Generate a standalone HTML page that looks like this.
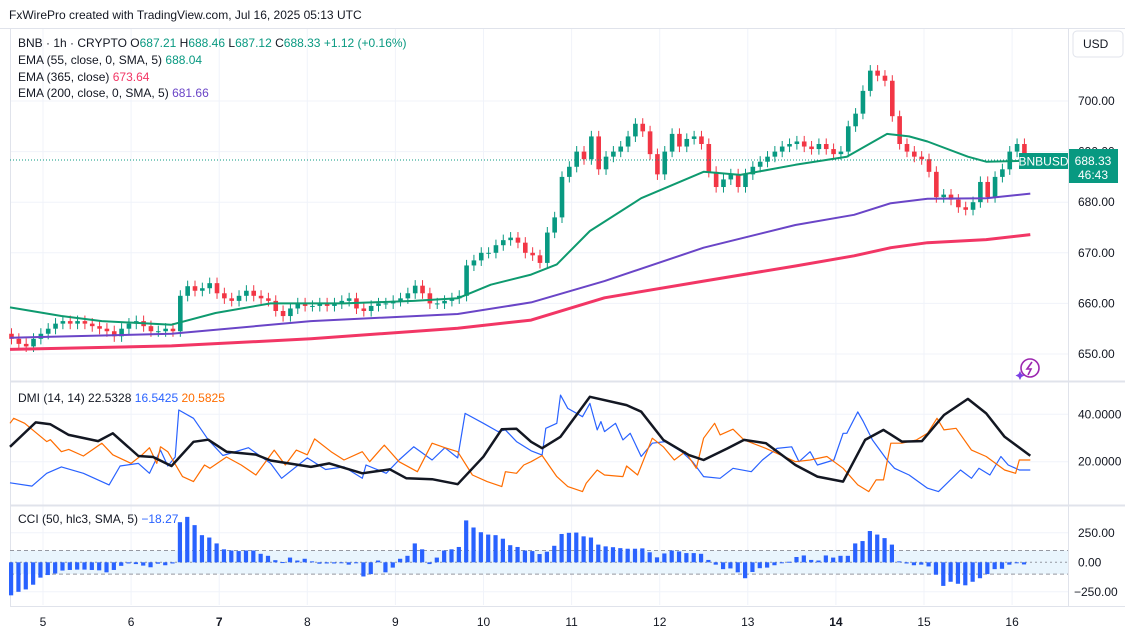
<!DOCTYPE html>
<html><head><meta charset="utf-8">
<style>
html,body{margin:0;padding:0;background:#fff;}
body{width:1125px;height:637px;overflow:hidden;font-family:"Liberation Sans",sans-serif;}
svg text{font-family:"Liberation Sans",sans-serif;}
</style></head>
<body>
<svg id="chart" width="1125" height="637" viewBox="0 0 1125 637" xmlns="http://www.w3.org/2000/svg">
<rect x="0" y="0" width="1125" height="637" fill="#ffffff"/>
<text x="9" y="19" font-size="12" fill="#131722">FxWirePro created with TradingView.com, Jul 16, 2025 05:13 UTC</text>
<g id="grid"></g>
<g id="frame">
<line x1="0" y1="28.5" x2="1125" y2="28.5" stroke="#e0e3eb"/>
<line x1="10.5" y1="28" x2="10.5" y2="606" stroke="#e0e3eb"/>
<line x1="1068.5" y1="28" x2="1068.5" y2="606" stroke="#e0e3eb"/>
<line x1="10" y1="381.5" x2="1125" y2="381.5" stroke="#e0e3eb" stroke-width="2"/>
<line x1="10" y1="505.5" x2="1125" y2="505.5" stroke="#e0e3eb" stroke-width="2"/>
<line x1="10" y1="606.5" x2="1125" y2="606.5" stroke="#e0e3eb"/>
</g>
<g id="cciBand"></g>
<g id="main"></g>
<g id="dmi"></g>
<g id="cci"></g>
<g id="axes"></g>

<g font-size="12">
<text x="18" y="47" fill="#131722">BNB · 1h · CRYPTO  <tspan fill="#131722">O</tspan><tspan fill="#089981">687.21</tspan>  <tspan fill="#131722">H</tspan><tspan fill="#089981">688.46</tspan>  <tspan fill="#131722">L</tspan><tspan fill="#089981">687.12</tspan>  <tspan fill="#131722">C</tspan><tspan fill="#089981">688.33</tspan>  <tspan fill="#089981">+1.12 (+0.16%)</tspan></text>
<text x="18" y="64" fill="#131722">EMA (55, close, 0, SMA, 5) <tspan fill="#089981">688.04</tspan></text>
<text x="18" y="81" fill="#131722">EMA (365, close) <tspan fill="#f23665">673.64</tspan></text>
<text x="18" y="97" fill="#131722">EMA (200, close, 0, SMA, 5) <tspan fill="#6a45c7">681.66</tspan></text>
</g>
<g font-size="12">
<text x="18" y="402" fill="#131722">DMI (14, 14) <tspan fill="#131722">22.5328</tspan> <tspan fill="#2962ff">16.5425</tspan> <tspan fill="#ff6d00">20.5825</tspan></text>
</g>
<g font-size="12">
<text x="18" y="523" fill="#131722">CCI (50, hlc3, SMA, 5) <tspan fill="#2962ff">−18.27</tspan></text>
</g>
<g>
<rect x="1073" y="31" width="50" height="26" rx="4" fill="#fff" stroke="#e0e3eb"/>
<text x="1083" y="48" font-size="12" fill="#131722">USD</text>
</g>
<g>
<rect x="1019" y="153" width="49" height="16" fill="#089981"/>
<text x="1043.5" y="165.5" font-size="12" fill="#fff" text-anchor="middle">BNBUSD</text>
<rect x="1069" y="149" width="49" height="34" fill="#089981"/>
<text x="1093" y="165" font-size="12" fill="#fff" text-anchor="middle">688.33</text>
<text x="1093" y="179" font-size="12" fill="#fff" text-anchor="middle">46:43</text>
</g>
<g>
<circle cx="1030" cy="368" r="9" fill="none" stroke="#9c27b0" stroke-width="1.6"/>
<path d="M1032 362 L1027 369 L1031 369 L1028 375" fill="none" stroke="#9c27b0" stroke-width="1.6"/>
<path d="M1020 371 l1.5 3 l3 1.5 l-3 1.5 l-1.5 3 l-1.5 -3 l-3 -1.5 l3 -1.5z" fill="#7b3fe4"/>
</g>
</svg>
<script>
// ---- data ----
const closes = [653,652,651.5,653,654,655,656,656.5,656,656.5,656,655.5,655,654.5,653.5,655,656,656.5,655.5,654.5,654.5,655,654.5,661.5,663.4,662.5,663,664,662,661,660.5,661.5,662.5,661.5,661,660.5,658.5,657.5,659,660,659.5,659.5,660,659.5,660,660.5,661,659,658.5,659.5,660,660,660.5,661,662,663.5,662,660,660,660.5,661,661.5,667.5,668.5,670,670,671.5,672.5,673,672,670,669.5,668,674,677,685,687,690,688.5,693,686.5,689,690,691,693,695.5,694,689.5,685.5,690,693.5,691,692.5,693,691.5,686,683,684.5,685.5,683,685.5,687,688,689,690,691,691.5,692,691,690.5,691.5,690.5,689.5,690,695,697.5,702,706,705,704,697,691.5,690,689,688.5,686,681,681.5,680.5,679,678.5,680,684,681,685,686.5,690,691.5,688.33];
const firstOpen = 654;
const ema55Hours = [0,14,25,44,56,71,91,110,122,131,142,149,158,172,189,199,214,228,239,245,250,261,266,278];
const ema55Vals = [659.2,657.5,656.5,655.8,658.1,660,660,660.5,661,663.7,665.7,667.7,674.3,680.8,686,685.4,687.4,689,693.5,693,692,689,688,688.2];
const ema200Hours = [0,44,82,122,142,162,189,214,230,240,250,266,278];
const ema200Vals = [653.2,654,656.5,657.9,660.2,664.4,671,675.5,677.5,679.8,680.7,680.8,681.7];
const ema365Hours = [0,44,82,122,142,162,189,214,230,240,250,266,278];
const ema365Vals = [650.9,651.6,653,655.1,656.7,661.1,664.4,667.4,669.4,671,672,672.6,673.6];
const adxHours = [0,7,11,16,24,28,35,39,44,50,54,59,67,71,82,87,96,103.5,108,115,122,129,134,138,142,145,150,158,168,172,178,185,189,195.5,200,206,214,220,227,233,238,243,248.5,254.5,261,266,271,278];
const adxVals = [26.3,36.6,35.8,31.3,28.7,32,22.4,22,18.2,28.4,29.3,24.2,23,20.5,17.8,19.3,15.1,16.8,13,12.6,10.5,22.1,33.7,33.9,28.4,25.7,30.5,47.4,43.9,41.1,29.2,22.8,20.7,25.6,29.2,27.8,18.6,13.7,11.6,29.2,33.4,28.5,28.7,39.7,46.5,40.4,30.5,22.5];
const plusDiHours = [0,6,10,14,20,27,30,35,38,41,43,45,46,50,54,58,65,71,74,81,86,91,96,97,102.5,106,110,115,118.5,122,124,129,133,135,138,142,145,146,149,150,152,156,158,160,161,162,165,167,169,172,175,178.5,183,186,189,193.5,197,202,205,209,213,215,218,220,224.5,227,228,231,232.5,235,239,241,245,250,253,259,262,264,267,270,272,275,278];
const plusDiVals = [11.1,9.7,15.1,17.8,15.1,10.2,18.2,19.3,15.1,24.9,18.2,22,41.8,38.3,29.3,22.6,25.9,19.3,13,21.6,16.7,17.8,13,18.6,15.1,20.7,26.3,20.7,25.9,21.6,40.4,36.2,32.7,33.4,28.5,24.6,22.8,34.1,36.2,48.1,42.5,39,44.6,33.4,36.9,32.7,36.2,29.2,32,22.2,27.8,28.5,24.2,20,13.7,13,17.2,15.8,20.7,25.6,26.3,20,24.2,18.6,20.7,32,32,41,36.9,29.2,20.7,17.2,14.4,8.8,7.4,16.5,13,17.2,14.4,22.2,18.6,16.5,16.5];
const minusDiHours = [0,1,4,10,11,14,16,20,25,28,33,36,38,40,41,43,47,50,53,54.5,59,63,67,72,75,78,81,83,87.5,91,96,98,102,106,111,115,118.5,122,126,130,134,135,138,140,142,145,149,152,156,157,160,162,167,168,171,175,178,181,184,187,189,192,193.5,197,200,206,210,214,218,222.6,227,231,234,236,238,240,243,247,250,252.6,254.5,257.8,262,266,271,274,275,278];
const minusDiVals = [36.2,38.3,36.2,28.5,29.3,24.2,25.2,22.4,27.8,22.9,19.3,22.9,25.9,19.3,26.3,24.2,13.7,11.6,18.6,17.2,22,18.6,14.4,24.9,18.6,24.9,22.9,29.6,24.2,20.7,24.2,20,27,20,15.8,27.8,25.9,24.2,14.4,11.6,9.5,15.8,15.1,18.6,20,22.6,13.7,9.5,7.4,10.9,16.5,14.4,13.7,18.2,14.4,29.9,26.3,20.7,24.2,17.2,29.9,36.2,31.3,33.7,29.2,25.6,22.8,20,20.7,22.2,17.2,10.2,7.4,12.3,12.3,27.8,27.8,29.2,32,38.3,33.4,34.1,24.9,22.2,16.5,15.1,20.7,20.7];
const cciVals = [-280,-250,-230,-190,-130,-108,-95,-70,-65,-62,-62,-65,-68,-85,-65,-30,-10,-15,-28,-42,-12,-25,-10,340,385,315,230,210,160,110,100,95,100,100,72,55,18,2,40,15,30,8,-12,-10,-10,-5,-20,-5,-120,-100,15,-85,-45,30,55,160,110,-15,40,100,110,130,355,295,255,235,230,200,145,130,100,95,70,90,140,240,250,252,220,210,150,135,128,120,115,115,118,85,42,75,100,92,78,78,72,20,-20,-58,-52,-85,-135,-82,-50,-45,-25,0,5,45,58,20,15,58,40,55,55,160,180,265,235,205,150,8,-10,-25,-20,-35,-105,-200,-165,-182,-195,-165,-135,-100,-58,-55,-20,0,-18];
const priceTicks = [650,660,670,680,690,700];
const dmiTicks = [20,40];
const cciTicks = [-250,0,250];
const dayLabels = ['5','6','7','8','9','10','11','12','13','14','15','16'];
const dayBold = ['7','14'];

const NS='http://www.w3.org/2000/svg';
const X0=10, PXH=3.67;
const xh = h => X0 + h*PXH;
const yP = p => 101 + (700-p)*5.06;
const yD = v => 414.3 + (40-v)*2.37;
const yC = v => 562.3 - v*0.118;
const dayX = i => 43 + i*88.1;
function mk(tag, attrs, parent){const e=document.createElementNS(NS,tag);for(const k in attrs)e.setAttribute(k,attrs[k]);parent.appendChild(e);return e;}
const grid=document.getElementById('grid'), main=document.getElementById('main'), dmi=document.getElementById('dmi'), cci=document.getElementById('cci'), axes=document.getElementById('axes'), band=document.getElementById('cciBand');

priceTicks.forEach(p=>{const l=mk('line',{x1:10,x2:1068,y1:yP(p),y2:yP(p),stroke:'#f0f3fa'},grid);

});
dayLabels.forEach((d,i)=>{const l=mk('line',{x1:dayX(i),x2:dayX(i),y1:29,y2:605,stroke:'#f0f3fa'},grid);

});
dmiTicks.forEach(v=>{const l=mk('line',{x1:10,x2:1068,y1:yD(v),y2:yD(v),stroke:'#f0f3fa'},grid);

});
cciTicks.forEach(v=>{const l=mk('line',{x1:10,x2:1068,y1:yC(v),y2:yC(v),stroke:'#f0f3fa'},grid);

});

let prev=firstOpen;
closes.forEach((c,k)=>{
  const o=prev, x=xh(2*k)+1.5, up=c>=o, col=up?'#089981':'#f23645';
  const hi=Math.max(o,c)+1.1, lo=Math.min(o,c)-1.1;
  const g=mk('g',{},main);
  
  
  mk('line',{x1:x,x2:x,y1:yP(hi),y2:yP(lo),stroke:col,'stroke-width':1},g);
  const yt=yP(Math.max(o,c)), yb=yP(Math.min(o,c));
  mk('rect',{x:x-2.3,y:yt,width:4.6,height:Math.max(1,yb-yt),fill:col},g);
  prev=c;
});
const lp=mk('line',{x1:10,x2:1068,y1:yP(closes[closes.length-1]),y2:yP(closes[closes.length-1]),stroke:'#089981','stroke-dasharray':'1 2','stroke-width':1},main);



function line(hours,vals,yf,col,w,parent,name){
  const d=hours.map((h,i)=>(i?'L':'M')+xh(h).toFixed(1)+' '+yf(vals[i]).toFixed(1)).join(' ');
  const p=mk('path',{d:d,fill:'none',stroke:col,'stroke-width':w,'stroke-linejoin':'round'},parent);
  
  
}
line(ema365Hours,ema365Vals,yP,'#f23665',3,main,'ema-365-line');
line(ema200Hours,ema200Vals,yP,'#6a45c7',2,main,'ema-200-line');
line(ema55Hours,ema55Vals,yP,'#0e9a6f',2,main,'ema-55-line');

line(plusDiHours,plusDiVals,yD,'#2962ff',1.2,dmi,'plus-di-line');
line(minusDiHours,minusDiVals,yD,'#ff6d00',1.2,dmi,'minus-di-line');
line(adxHours,adxVals,yD,'#131722',2.5,dmi,'adx-line');

const br=mk('rect',{x:10,y:yC(100),width:1058,height:yC(-100)-yC(100),fill:'#e3f2fd',opacity:0.8},band);


[100,0,-100].forEach(v=>{const l=mk('line',{x1:10,x2:1068,y1:yC(v),y2:yC(v),stroke:'#9598a1','stroke-dasharray':v===0?'2 3':'4 3'},band);

});
cciVals.forEach((v,k)=>{
  const x=xh(2*k)+0.5, y0=yC(0), y1=yC(v);
  const r=mk('rect',{x:x-1.5,y:Math.min(y0,y1),width:4.2,height:Math.max(1,Math.abs(y1-y0)),fill:'#2962ff'},cci);
  
  
});

priceTicks.forEach(p=>{const t=mk('text',{x:1078,y:yP(p)+4,'font-size':12,fill:'#131722'},axes);t.textContent=p.toFixed(2);

});
dmiTicks.forEach(v=>{const t=mk('text',{x:1078,y:yD(v)+4,'font-size':12,fill:'#131722'},axes);t.textContent=v.toFixed(4);

});
cciTicks.forEach(v=>{const t=mk('text',{x:v<0?1074:1078,y:yC(v)+4,'font-size':12,fill:'#131722'},axes);t.textContent=(v<0?'−':'')+Math.abs(v).toFixed(2);

});
dayLabels.forEach((d,i)=>{const t=mk('text',{x:dayX(i),y:626,'font-size':12,fill:'#131722','text-anchor':'middle','font-weight':dayBold.includes(d)?'bold':'normal'},axes);t.textContent=d;

});
</script>
</body></html>
